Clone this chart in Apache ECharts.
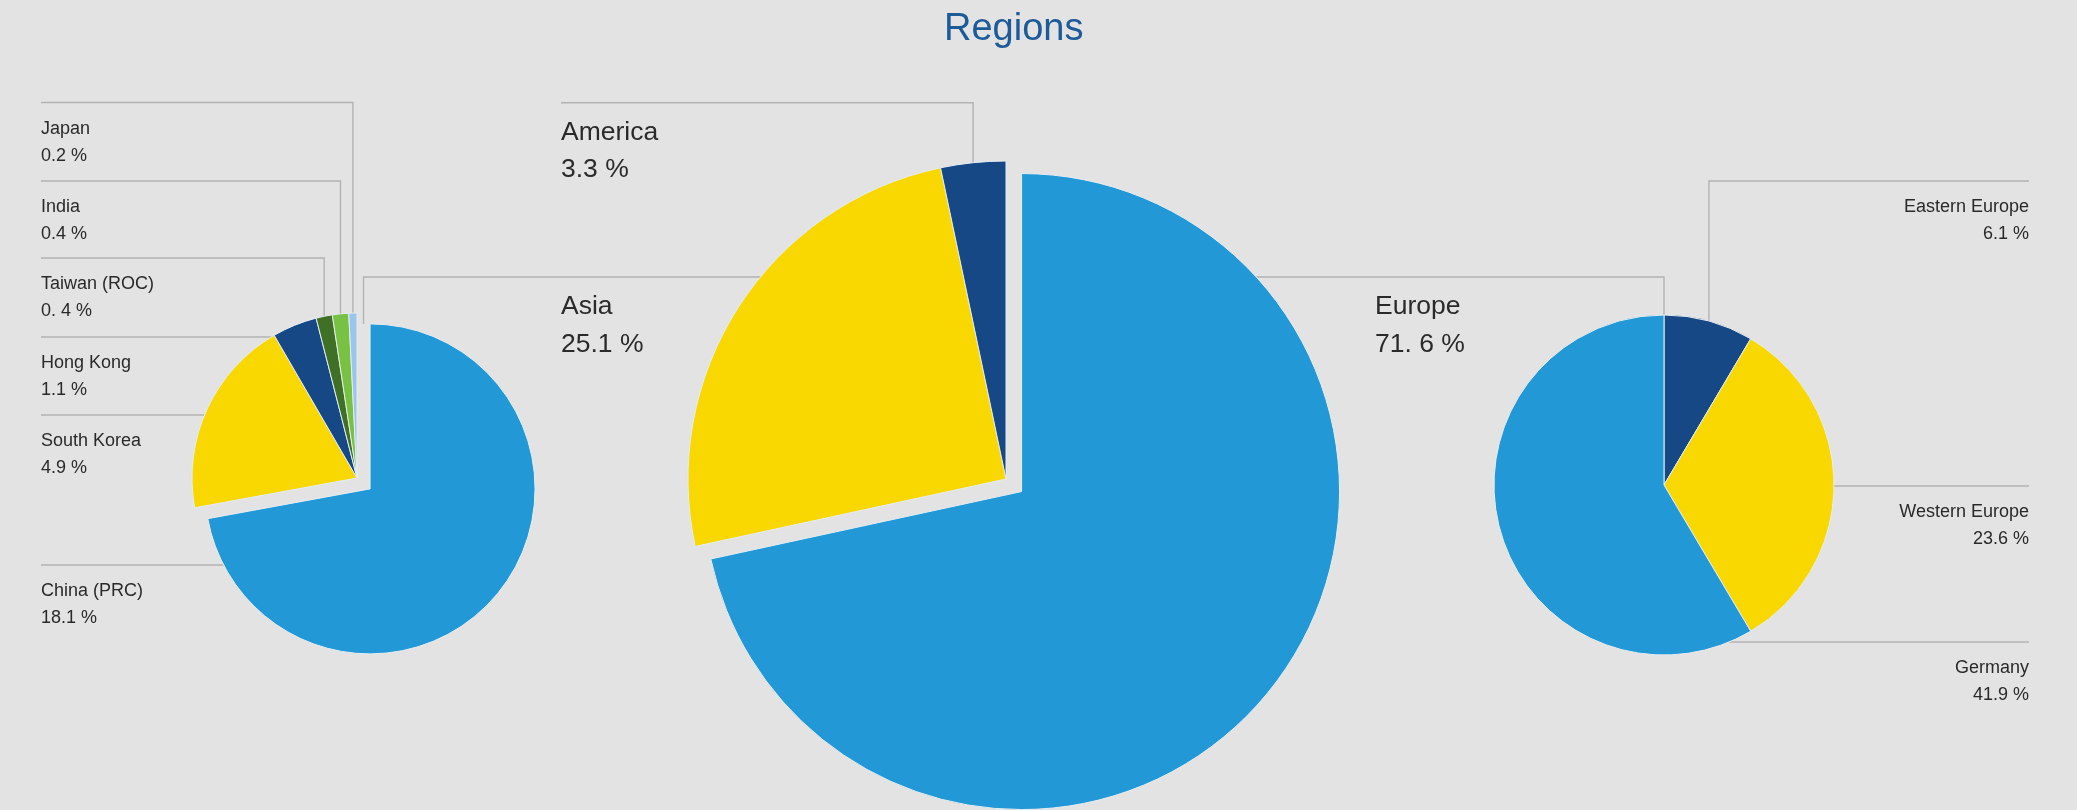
<!DOCTYPE html>
<html><head><meta charset="utf-8">
<script src="https://cdn.jsdelivr.net/npm/echarts@6/dist/echarts.min.js"></script>
<style>html,body{margin:0;padding:0;background:#e3e3e3;} #chart{width:2077px;height:810px;}</style>
</head><body><div id="chart"></div>
<script>
// ---- data ----
const regionNames = ['Europe', 'Asia', 'America'];
const regionValues = [71.6, 25.1, 3.3];
const regionValueText = ['71. 6 %', '25.1 %', '3.3 %'];

const asiaNames = ['China (PRC)', 'South Korea', 'Hong Kong', 'Taiwan (ROC)', 'India', 'Japan'];
const asiaValues = [18.1, 4.9, 1.1, 0.4, 0.4, 0.2];
const asiaValueText = ['18.1 %', '4.9 %', '1.1 %', '0. 4 %', '0.4 %', '0.2 %'];

const europeNames = ['Eastern Europe', 'Western Europe', 'Germany'];
const europeValues = [6.1, 23.6, 41.9];
const europeValueText = ['6.1 %', '23.6 %', '41.9 %'];

// ---- styles ----
const C = {blue:'#2398d6', yellow:'#f9d700', navy:'#174886', dgreen:'#3f7026', lgreen:'#79c142', lblue:'#9ac6ec'};
const regionColors = [C.blue, C.yellow, C.navy];
const asiaColors = [C.blue, C.yellow, C.navy, C.dgreen, C.lgreen, C.lblue];
const europeColors = [C.navy, C.yellow, C.blue];
const FONT = 'Liberation Sans';
const LINE = {color:'#b3b3b3', width:1.4};
const BORDER = {borderColor: '#e6edf2', borderWidth: 1};
const CLEAR = 'rgba(0,0,0,0)';

// ---- layout ----
const PIE_ASIA = {center:[357,478], r:165, offset:17, selected:0};
const PIE_REGION = {center:[1006,479], r:318, offset:20, selected:0};
const PIE_EUROPE = {center:[1664,485], r:170, offset:0, selected:-1};

const asiaLabelLayout = {x:41, align:'left', gap:13, rows:[
  {lineY:565, mode:'edgeL'}, {lineY:415, mode:'edgeL'}, {lineY:337, mode:'edgeL'},
  {lineY:258, mode:'elbow'}, {lineY:181, mode:'elbow'}, {lineY:102.5, mode:'elbow'}]};
const regionLabelLayout = {align:'left', gap:11, rows:[
  {x:1375, lineY:277, mode:'toEurope'}, {x:561, lineY:277, mode:'toAsia'}, {x:561, lineY:102.7, mode:'elbow'}]};
const europeLabelLayout = {x:2029, align:'right', gap:12.5, rows:[
  {lineY:181, mode:'elbow'}, {lineY:486, mode:'elbow'}, {lineY:642, mode:'edgeR'}]};

function sliceGeom(values, idx, pie) {
  const total = values.reduce((a, b) => a + b, 0);
  let start = 0;
  for (let i = 0; i < idx; i++) start += values[i] / total * 2 * Math.PI;
  const end = start + values[idx] / total * 2 * Math.PI;
  const mid = (start + end) / 2;
  let cx = pie.center[0], cy = pie.center[1];
  if (idx === pie.selected) { cx += pie.offset * Math.sin(mid); cy -= pie.offset * Math.cos(mid); }
  return {cx, cy, r: pie.r, px: cx + pie.r * Math.sin(mid), py: cy - pie.r * Math.cos(mid)};
}
function edgeX(g, y, side) {
  const dy = y - g.cy;
  const dx = Math.sqrt(Math.max(0, g.r * g.r - dy * dy));
  return side < 0 ? g.cx - dx : g.cx + dx;
}

function makeLayout(values, pie, spec) {
  return function (params) {
    const i = params.dataIndex;
    const row = spec.rows[i];
    const lx = row.x != null ? row.x : spec.x;
    const g = sliceGeom(values, i, pie);
    let pts;
    const y = row.lineY;
    if (row.mode === 'elbow') {
      pts = [[lx, y], [g.px, y], [g.px, g.py]];
    } else if (row.mode === 'edgeL') {
      pts = [[lx, y], [edgeX(g, y, -1), y]];
    } else if (row.mode === 'edgeR') {
      pts = [[lx, y], [edgeX(g, y, 1), y]];
    } else if (row.mode === 'toEurope') {
      const tx = PIE_EUROPE.center[0];
      pts = [[edgeX(g, y, 1), y], [tx, y], [tx, PIE_EUROPE.center[1] - PIE_EUROPE.r]];
    } else if (row.mode === 'toAsia') {
      const gc = sliceGeom(asiaValues, PIE_ASIA.selected, PIE_ASIA);
      const tx = (gc.cx + PIE_ASIA.center[0]) / 2;
      pts = [[tx, gc.cy - PIE_ASIA.r], [tx, y], [edgeX(g, y, -1), y]];
    }
    return {x: lx, y: y + spec.gap, align: spec.align, verticalAlign: 'top', labelLinePoints: pts};
  };
}

// main pie: every slice + labels; the pulled-out slice is drawn by the companion series
function pieSeries(names, values, colors, valueText, pie, spec, fontSize, lineHeight) {
  return {
    type: 'pie', center: pie.center, radius: pie.r,
    startAngle: 90, clockwise: true, animation: false,
    avoidLabelOverlap: false,
    emphasis: {disabled: true},
    itemStyle: BORDER,
    label: {show: true, position: 'outside', color: '#2a2a2a', fontFamily: FONT,
      fontSize: fontSize, lineHeight: lineHeight,
      formatter: p => p.name + '\n' + valueText[p.dataIndex]},
    labelLine: {show: true, lineStyle: LINE},
    labelLayout: makeLayout(values, pie, spec),
    data: names.map((n, i) => ({name: n, value: values[i],
      itemStyle: i === pie.selected ? {color: CLEAR, borderWidth: 0} : {color: colors[i]}}))
  };
}
// companion pie: same values, centre moved along the pulled-out slice's mid-angle
function explodedSeries(names, values, colors, pie) {
  const g = sliceGeom(values, pie.selected, pie);
  return {
    type: 'pie', center: [g.cx, g.cy], radius: pie.r,
    startAngle: 90, clockwise: true, animation: false, silent: true,
    emphasis: {disabled: true},
    label: {show: false}, labelLine: {show: false},
    data: names.map((n, i) => ({name: n, value: values[i],
      itemStyle: i === pie.selected ? Object.assign({color: colors[i]}, BORDER) : {color: CLEAR, borderWidth: 0}}))
  };
}

const chart = echarts.init(document.getElementById('chart'), null, {renderer: 'canvas'});
chart.setOption({
  backgroundColor: '#e3e3e3',
  animation: false,
  title: {text: 'Regions', left: 939, top: 6,
    textStyle: {color: '#1d5a98', fontSize: 38, fontWeight: 'normal', fontFamily: FONT}},
  series: [
    pieSeries(asiaNames, asiaValues, asiaColors, asiaValueText, PIE_ASIA, asiaLabelLayout, 18, 27),
    explodedSeries(asiaNames, asiaValues, asiaColors, PIE_ASIA),
    pieSeries(regionNames, regionValues, regionColors, regionValueText, PIE_REGION, regionLabelLayout, 26.5, 37.5),
    explodedSeries(regionNames, regionValues, regionColors, PIE_REGION),
    pieSeries(europeNames, europeValues, europeColors, europeValueText, PIE_EUROPE, europeLabelLayout, 18, 27)
  ]
});
</script></body></html>
